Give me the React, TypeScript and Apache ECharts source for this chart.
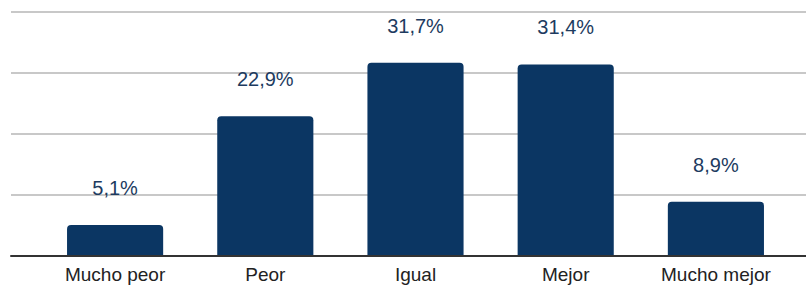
import React, { useEffect, useRef } from "react";
import * as echarts from "echarts";

const categories = ["Mucho peor", "Peor", "Igual", "Mejor", "Mucho mejor"];
const values = [5.1, 22.9, 31.7, 31.4, 8.9];
const yMax = 40;
const yInterval = 10;

const FONT = 'Arial, "Liberation Sans", sans-serif';

export default function App() {
  const ref = useRef<HTMLDivElement>(null);
  useEffect(() => {
    if (!ref.current) return;
    const chart = echarts.init(ref.current, undefined, { renderer: "svg" });
    chart.setOption({
      animation: false,
      backgroundColor: "#ffffff",
      grid: [
        { left: 11, right: 0, top: 12, bottom: 29, containLabel: false },
        { left: 40, right: 15, top: 12, bottom: 29, containLabel: false },
      ],
      xAxis: [
        {
          gridIndex: 0,
          type: "value",
          min: 0,
          max: 1,
          axisLine: { show: true, onZero: false, lineStyle: { color: "#333333", width: 2 } },
          axisTick: { show: false },
          axisLabel: { show: false },
          splitLine: { show: false },
          z: 5,
        },
        {
          gridIndex: 1,
          type: "category",
          data: categories,
          axisLine: { show: false },
          axisTick: { show: false },
          axisLabel: {
            color: "#222222",
            fontSize: 19,
            fontFamily: FONT,
            margin: 9,
            interval: 0,
          },
        },
      ],
      yAxis: [
        {
          gridIndex: 0,
          type: "value",
          min: 0,
          max: yMax,
          interval: yInterval,
          axisLine: { show: false },
          axisTick: { show: false },
          axisLabel: { show: false },
          splitLine: { show: true, showMaxLine: true, lineStyle: { color: "#c8c8c8", width: 2 } },
        },
        {
          gridIndex: 1,
          type: "value",
          min: 0,
          max: yMax,
          interval: yInterval,
          show: false,
          splitLine: { show: false },
        },
      ],
      series: [
        {
          type: "bar",
          xAxisIndex: 1,
          yAxisIndex: 1,
          data: values,
          barCategoryGap: "36%",
          itemStyle: { color: "#0b3663", borderRadius: [4, 4, 0, 0] },
          label: {
            show: true,
            position: "top",
            distance: 27,
            color: "#1d3b60",
            fontSize: 20,
            fontFamily: FONT,
            formatter: (p: any) => p.value.toFixed(1).replace(".", ",") + "%",
          },
          z: 3,
        },
      ],
    });
    return () => chart.dispose();
  }, []);
  return (
    <div
      ref={ref}
      style={{ position: "fixed", left: 0, top: 0, width: 806, height: 285 }}
    />
  );
}
